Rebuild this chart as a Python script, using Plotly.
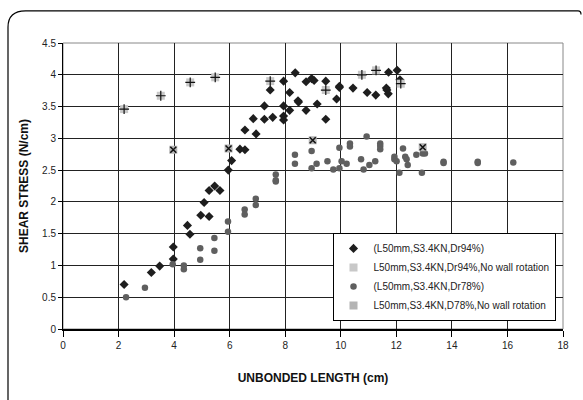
import plotly.graph_objects as go

# Series 1: (L50mm,S3.4KN,Dr94%) - black diamonds
x_dr94 = [2.2, 3.18, 3.48, 3.97, 3.97, 4.48, 4.57, 4.96, 5.26, 5.08, 5.26, 5.46, 5.65,
          5.95, 6.07, 6.37, 6.55, 6.55, 6.95, 6.85, 7.25, 7.25, 7.55, 7.46, 7.94, 7.94,
          7.94, 7.94, 8.16, 8.16, 8.36, 8.46, 8.48, 8.75, 8.75, 8.95, 9.04, 9.15, 9.46,
          9.46, 9.85, 9.95, 9.95, 10.44, 10.95, 11.26, 11.64, 11.66, 11.71, 11.72, 12.03, 12.13]
y_dr94 = [0.70, 0.89, 0.99, 1.10, 1.29, 1.63, 1.49, 1.79, 1.77, 1.99, 2.18, 2.25, 2.18,
          2.50, 2.65, 2.83, 2.82, 3.13, 3.07, 3.31, 3.30, 3.51, 3.33, 3.76, 3.35, 3.29,
          3.51, 3.90, 3.44, 3.72, 4.03, 3.59, 3.57, 3.44, 3.89, 3.94, 3.91, 3.54, 3.90,
          3.30, 3.62, 3.82, 3.80, 3.79, 3.72, 3.68, 3.79, 3.76, 3.70, 4.04, 4.07, 3.92]

# Series 2: L50mm,S3.4KN,Dr94%,No wall rotation
x_dr94_nwr = [2.2, 3.52, 4.58, 5.48, 7.46, 9.46, 10.76, 11.27, 12.16]
y_dr94_nwr = [3.46, 3.67, 3.88, 3.96, 3.90, 3.76, 4.00, 4.07, 3.86]

# Series 3: (L50mm,S3.4KN,Dr78%) - gray circles
x_dr78 = [2.27, 2.95, 3.95, 4.35, 4.35, 4.94, 4.94, 5.45, 5.45, 5.94, 5.94, 6.54, 6.54,
          6.94, 6.94, 7.66, 7.66, 7.66, 8.35, 8.35, 8.95, 8.95, 9.13, 9.52, 9.73, 9.95,
          9.95, 10.03, 10.21, 10.33, 10.33, 10.73, 10.82, 10.93, 11.03, 11.24, 11.42,
          11.42, 11.42, 11.93, 11.93, 12.01, 12.11, 12.24, 12.32, 12.37, 12.41, 12.72,
          12.92, 12.95, 13.03, 13.70, 13.70, 14.93, 14.93, 16.21]
y_dr78 = [0.50, 0.65, 1.02, 1.00, 0.94, 1.27, 1.09, 1.43, 1.23, 1.69, 1.53, 1.88, 1.80,
          2.05, 1.95, 2.32, 2.43, 2.34, 2.74, 2.60, 2.80, 2.53, 2.60, 2.64, 2.51, 2.53,
          2.85, 2.64, 2.60, 2.92, 2.87, 2.67, 2.51, 3.03, 2.58, 2.64, 2.92, 2.88, 2.83,
          2.71, 2.67, 2.64, 2.46, 2.84, 2.71, 2.67, 2.58, 2.74, 2.46, 2.76, 2.76, 2.63,
          2.61, 2.63, 2.61, 2.62]

# Series 4: L50mm,S3.4KN,D78%,No wall rotation
x_d78_nwr = [3.97, 5.96, 8.99, 12.95]
y_d78_nwr = [2.82, 2.84, 2.97, 2.86]

names = ["(L50mm,S3.4KN,Dr94%)",
         "L50mm,S3.4KN,Dr94%,No wall rotation",
         "(L50mm,S3.4KN,Dr78%)",
         "L50mm,S3.4KN,D78%,No wall rotation"]

x_ticks = [0, 2, 4, 6, 8, 10, 12, 14, 16, 18]
y_ticks = [0, 0.5, 1, 1.5, 2, 2.5, 3, 3.5, 4, 4.5]

fig = go.Figure()
fig.add_trace(go.Scatter(x=x_dr94, y=y_dr94, mode="markers", name=names[0],
                         marker=dict(symbol="diamond", size=7, color="#1e1e1e")))
fig.add_trace(go.Scatter(x=x_dr94_nwr, y=y_dr94_nwr, mode="markers", name=names[1],
                         marker=dict(symbol="square", size=8, color="#c8c8c8")))
fig.add_trace(go.Scatter(x=x_dr94_nwr, y=y_dr94_nwr, mode="markers", showlegend=False,
                         marker=dict(symbol="cross-thin", size=7,
                                     line=dict(color="#111", width=1.2))))
fig.add_trace(go.Scatter(x=x_dr78, y=y_dr78, mode="markers", name=names[2],
                         marker=dict(symbol="circle", size=6.5, color="#5f5f5f")))
fig.add_trace(go.Scatter(x=x_d78_nwr, y=y_d78_nwr, mode="markers", name=names[3],
                         marker=dict(symbol="square", size=8, color="#b4b4b4")))
fig.add_trace(go.Scatter(x=x_d78_nwr, y=y_d78_nwr, mode="markers", showlegend=False,
                         marker=dict(symbol="x-thin", size=6,
                                     line=dict(color="#111", width=1.5))))

axis_font = dict(family="Liberation Sans, Arial", size=10, color="#222")
title_font = dict(family="Liberation Sans, Arial", size=12, color="#111")

fig.update_layout(
    width=583, height=400,
    margin=dict(l=63, r=20, t=43, b=71),
    paper_bgcolor="white", plot_bgcolor="white",
    xaxis=dict(range=[0, 18], tickvals=x_ticks, ticktext=[str(v) for v in x_ticks],
               showgrid=True, gridcolor="#222", gridwidth=1,
               showline=True, linecolor="#000", linewidth=2,
               ticks="outside", ticklen=6, tickcolor="#000",
               tickfont=axis_font, zeroline=False,
               title=dict(text="<b>UNBONDED LENGTH (cm)</b>", font=title_font, standoff=24)),
    yaxis=dict(range=[0, 4.5], tickvals=y_ticks, ticktext=[str(v) for v in y_ticks],
               showgrid=True, gridcolor="#222", gridwidth=1,
               showline=True, linecolor="#000", linewidth=1,
               ticks="outside", ticklen=4, tickcolor="#000",
               tickfont=axis_font, zeroline=False,
               title=dict(text="<b>SHEAR STRESS (N/cm)</b>", font=title_font, standoff=10)),
    legend=dict(x=0.985, y=0.336, xanchor="right", yanchor="top",
                bgcolor="white", bordercolor="#000", borderwidth=1,
                font=dict(family="Liberation Sans, Arial", size=10, color="#222"),
                tracegroupgap=0),
    showlegend=True,
    shapes=[
        dict(type="rect", xref="paper", yref="paper", x0=0, x1=1, y0=0, y1=1,
             line=dict(color="#888", width=1), layer="below"),
        dict(type="path", xref="paper", yref="paper",
             path="M -0.110,-0.25 L -0.110,1.055 Q -0.110,1.112 -0.075,1.112 L 1.030,1.112 Q 1.036,1.112 1.036,1.100",
             line=dict(color="#000", width=1.2)),
    ],
)

fig.write_html("out.html", config={"displayModeBar": False},
               post_script="document.body.style.margin='0';document.body.style.overflow='hidden';")
